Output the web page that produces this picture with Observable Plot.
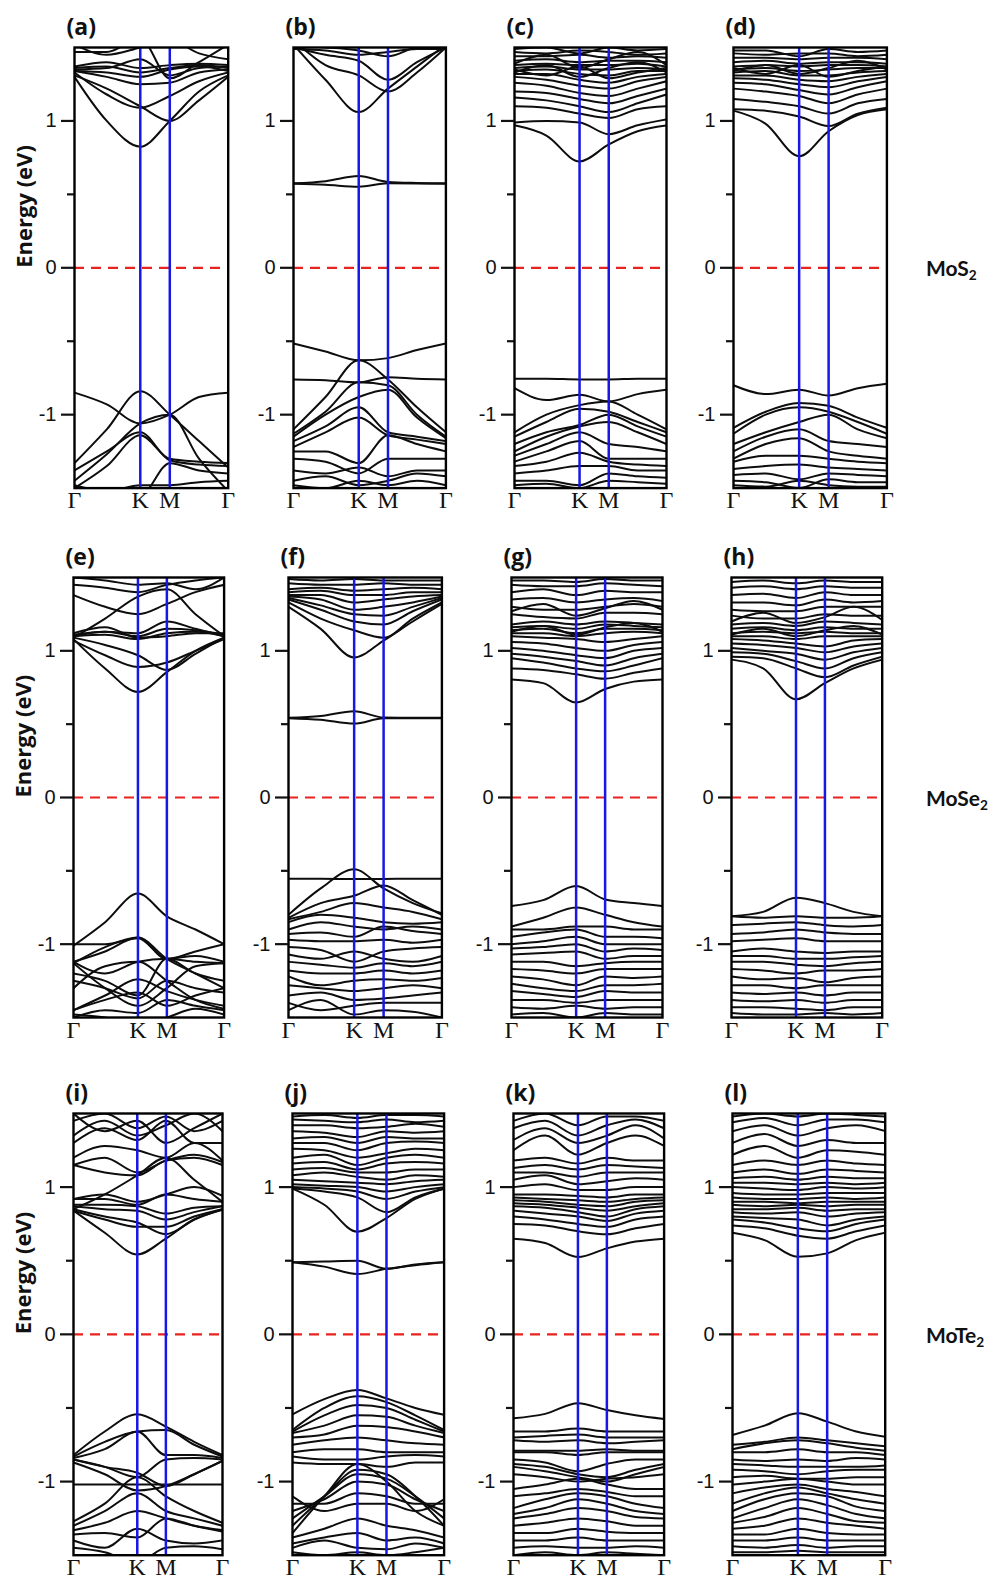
<!DOCTYPE html>
<html><head><meta charset="utf-8">
<script src="https://cdn.jsdelivr.net/npm/d3@7"></script>
<script src="https://cdn.jsdelivr.net/npm/@observablehq/plot@0.6"></script>
<style>
body{margin:0;background:#fff;}
#fig{position:relative;width:989px;height:1583px;overflow:hidden;background:#fff;}
.panel{position:absolute;}
.mat{position:absolute;font-family:Lato,"Open Sans",sans-serif;font-weight:700;font-size:21px;line-height:1;transform:translateY(-50%);white-space:nowrap;color:#111;}
.mat sub{font-size:0.65em;vertical-align:-0.3em;line-height:0;}
</style></head><body><div id="fig"></div><script>
// ---- data ----
const kSamples = [0, 0.21, 0.428, 0.62, 0.81, 1];   // Γ, Γ–K mid, K, M, M–Γ mid, Γ
const kTickPos = [0, 0.428, 0.62, 1];
const kTickText = ["Γ", "K", "M", "Γ"];
const yMajor = [-1, 0, 1];
const yMinor = [-0.5, 0.5];
const fermiLevel = [0];
const panelLabels = ["(a)","(b)","(c)","(d)","(e)","(f)","(g)","(h)","(i)","(j)","(k)","(l)"];
const materials = [["MoS","2"],["MoSe","2"],["MoTe","2"]];
const axisTitle = "Energy (eV)";

const bandsA = [
 [1.30,1.00,0.825,1.00,1.20,1.31],[1.33,1.18,1.09,1.17,1.27,1.33],[1.31,1.22,1.10,1.00,1.14,1.30],
 [1.34,1.30,1.25,1.26,1.33,1.35],[1.36,1.37,1.33,1.36,1.38,1.36],[1.37,1.40,1.36,1.38,1.39,1.38],
 [1.35,1.36,1.42,1.31,1.36,1.37],[1.47,1.47,1.56,1.29,1.40,1.52],[1.52,1.45,1.50,1.55,1.46,1.42],
 [1.34,1.33,1.30,1.35,1.37,1.34],
 [-0.85,-0.93,-1.06,-1.00,-0.88,-0.85],[-1.33,-1.10,-0.84,-1.00,-1.18,-1.36],[-1.38,-1.25,-1.12,-1.31,-1.34,-1.35],
 [-1.45,-1.27,-1.06,-1.00,-1.30,-1.52],[-1.50,-1.35,-1.14,-1.30,-1.32,-1.33],[-1.60,-1.50,-1.55,-1.33,-1.38,-1.40],
 [-1.48,-1.52,-1.48,-1.48,-1.46,-1.45]
];
const bandsB = [
 [1.52,1.28,1.06,1.22,1.37,1.52],[1.55,1.38,1.31,1.20,1.33,1.50],[1.50,1.45,1.41,1.28,1.40,1.50],
 [1.49,1.48,1.45,1.47,1.49,1.49],[1.51,1.50,1.48,1.44,1.50,1.51],
 [0.575,0.59,0.625,0.585,0.578,0.575],[0.572,0.565,0.552,0.575,0.574,0.572],
 [-0.515,-0.57,-0.63,-0.615,-0.56,-0.515],[-0.76,-0.765,-0.78,-0.745,-0.755,-0.76],
 [-1.10,-0.88,-0.63,-0.76,-0.95,-1.12],[-1.13,-0.98,-0.78,-0.80,-1.00,-1.15],[-1.15,-1.00,-0.88,-0.83,-1.02,-1.16],
 [-1.18,-1.08,-0.95,-1.12,-1.15,-1.18],[-1.22,-1.12,-1.02,-1.14,-1.17,-1.20],[-1.25,-1.25,-1.33,-1.14,-1.20,-1.25],
 [-1.30,-1.32,-1.40,-1.30,-1.30,-1.30],[-1.38,-1.40,-1.36,-1.42,-1.38,-1.38],[-1.45,-1.42,-1.48,-1.45,-1.40,-1.42],
 [-1.48,-1.50,-1.45,-1.48,-1.45,-1.48]
];
const bandsC = [
 [0.97,0.90,0.724,0.84,0.93,0.97],[0.99,1.00,0.99,0.91,0.97,1.01],[1.10,1.09,1.05,1.02,1.08,1.10],
 [1.16,1.14,1.10,1.06,1.12,1.18],[1.20,1.19,1.15,1.12,1.17,1.22],[1.26,1.24,1.19,1.17,1.22,1.27],
 [1.30,1.28,1.24,1.22,1.27,1.30],[1.32,1.32,1.28,1.26,1.30,1.32],[1.34,1.35,1.32,1.31,1.34,1.34],
 [1.36,1.37,1.35,1.35,1.36,1.35],[1.38,1.39,1.38,1.38,1.39,1.37],[1.41,1.42,1.40,1.41,1.41,1.40],
 [1.44,1.44,1.45,1.43,1.44,1.43],[1.47,1.46,1.48,1.47,1.45,1.46],[1.49,1.50,1.46,1.50,1.48,1.49],
 [1.33,1.38,1.30,1.36,1.40,1.33],[1.35,1.31,1.37,1.29,1.33,1.36],[1.39,1.45,1.36,1.42,1.47,1.38],
 [-0.755,-0.755,-0.76,-0.76,-0.755,-0.755],[-0.82,-0.90,-0.865,-0.91,-0.86,-0.83],[-1.12,-1.00,-0.935,-0.91,-1.00,-1.10],
 [-1.15,-1.05,-0.96,-0.98,-1.05,-1.12],[-1.20,-1.12,-1.07,-1.00,-1.08,-1.15],[-1.25,-1.15,-1.08,-1.05,-1.12,-1.20],
 [-1.28,-1.20,-1.12,-1.20,-1.22,-1.25],[-1.32,-1.25,-1.18,-1.30,-1.30,-1.30],[-1.35,-1.32,-1.26,-1.32,-1.34,-1.35],
 [-1.40,-1.38,-1.35,-1.35,-1.38,-1.38],[-1.45,-1.45,-1.48,-1.40,-1.42,-1.43],[-1.48,-1.47,-1.50,-1.45,-1.46,-1.47]
];
const bandsD = [
 [1.07,0.98,0.76,0.93,1.04,1.08],[1.08,1.07,1.03,0.965,1.05,1.09],[1.15,1.13,1.10,1.05,1.12,1.15],
 [1.22,1.20,1.17,1.12,1.18,1.22],[1.26,1.25,1.21,1.18,1.23,1.27],[1.29,1.28,1.25,1.23,1.27,1.30],
 [1.31,1.31,1.28,1.27,1.30,1.32],[1.33,1.34,1.31,1.31,1.33,1.34],[1.35,1.36,1.34,1.35,1.36,1.36],
 [1.37,1.38,1.37,1.38,1.38,1.37],[1.40,1.41,1.39,1.40,1.40,1.39],[1.43,1.43,1.42,1.43,1.43,1.42],
 [1.46,1.45,1.46,1.46,1.44,1.45],[1.48,1.48,1.44,1.49,1.47,1.48],
 [1.34,1.38,1.32,1.36,1.41,1.35],[1.36,1.32,1.38,1.30,1.34,1.37],
 [-0.80,-0.86,-0.83,-0.87,-0.82,-0.79],[-1.09,-0.98,-0.92,-0.94,-1.02,-1.09],[-1.13,-1.00,-0.95,-0.98,-1.05,-1.13],
 [-1.20,-1.12,-1.05,-1.00,-1.10,-1.16],[-1.25,-1.15,-1.10,-1.18,-1.20,-1.22],[-1.30,-1.20,-1.16,-1.25,-1.28,-1.30],
 [-1.32,-1.28,-1.28,-1.30,-1.32,-1.33],[-1.37,-1.35,-1.34,-1.36,-1.37,-1.38],[-1.41,-1.40,-1.44,-1.40,-1.41,-1.42],
 [-1.45,-1.46,-1.50,-1.44,-1.46,-1.46],[-1.48,-1.49,-1.45,-1.48,-1.49,-1.49]
];
const bandsE = [
 [1.08,0.88,0.72,0.855,1.00,1.09],[1.07,0.97,0.89,0.92,1.00,1.08],[1.09,1.04,0.97,0.87,0.98,1.09],
 [1.10,1.11,1.08,1.12,1.13,1.10],[1.11,1.13,1.10,1.15,1.14,1.11],[1.12,1.16,1.09,1.10,1.12,1.12],
 [1.10,1.13,1.12,1.20,1.15,1.10],[1.09,1.22,1.37,1.42,1.25,1.10],[1.45,1.43,1.40,1.45,1.48,1.50],
 [1.50,1.48,1.45,1.46,1.42,1.50],[1.38,1.30,1.25,1.32,1.40,1.45],
 [-1.01,-0.85,-0.655,-0.81,-0.90,-1.00],[-1.00,-1.00,-0.96,-1.10,-1.05,-1.00],[-1.12,-1.05,-0.955,-1.10,-1.08,-1.12],
 [-1.12,-1.20,-1.12,-1.10,-1.12,-1.13],[-1.20,-1.25,-1.35,-1.10,-1.20,-1.25],[-1.25,-1.30,-1.37,-1.25,-1.30,-1.33],
 [-1.45,-1.35,-1.24,-1.32,-1.38,-1.42],[-1.50,-1.45,-1.47,-1.38,-1.42,-1.45],[-1.48,-1.50,-1.55,-1.50,-1.44,-1.48],
 [-1.13,-1.02,-0.955,-1.10,-1.20,-1.30],[-1.13,-1.30,-1.42,-1.30,-1.15,-1.13],[-1.30,-1.15,-1.12,-1.25,-1.38,-1.44],
 [-1.45,-1.38,-1.33,-1.42,-1.35,-1.30]
];
const bandsF = [
 [1.30,1.15,0.955,1.07,1.20,1.32],[1.33,1.22,1.14,1.09,1.22,1.33],[1.35,1.28,1.20,1.18,1.27,1.35],
 [1.36,1.31,1.25,1.24,1.30,1.36],[1.37,1.35,1.28,1.30,1.33,1.37],[1.38,1.38,1.33,1.35,1.37,1.38],
 [1.40,1.41,1.38,1.38,1.40,1.40],[1.42,1.43,1.41,1.42,1.43,1.42],[1.46,1.45,1.45,1.46,1.45,1.45],
 [1.49,1.48,1.49,1.48,1.48,1.48],
 [0.543,0.555,0.588,0.545,0.543,0.543],[0.541,0.530,0.504,0.540,0.541,0.541],
 [-0.554,-0.554,-0.556,-0.555,-0.554,-0.554],[-0.80,-0.62,-0.49,-0.62,-0.72,-0.79],[-0.82,-0.72,-0.67,-0.60,-0.70,-0.80],
 [-0.83,-0.78,-0.72,-0.75,-0.78,-0.83],[-0.85,-0.80,-0.82,-0.85,-0.86,-0.85],[-0.90,-0.85,-0.88,-0.90,-0.88,-0.90],
 [-0.93,-0.92,-0.95,-0.88,-0.91,-0.93],[-0.97,-0.98,-0.98,-0.97,-0.99,-0.97],[-1.02,-1.04,-1.12,-1.05,-1.03,-1.02],
 [-1.07,-1.10,-1.05,-1.10,-1.12,-1.08],[-1.12,-1.14,-1.16,-1.13,-1.15,-1.12],[-1.18,-1.20,-1.20,-1.18,-1.20,-1.18],
 [-1.22,-1.28,-1.25,-1.24,-1.25,-1.23],[-1.28,-1.30,-1.32,-1.30,-1.28,-1.30],[-1.35,-1.33,-1.38,-1.37,-1.35,-1.33],
 [-1.40,-1.45,-1.42,-1.40,-1.40,-1.40],[-1.45,-1.38,-1.48,-1.45,-1.46,-1.50]
];
const bandsG = [
 [0.805,0.78,0.647,0.74,0.79,0.805],[0.88,0.87,0.84,0.81,0.85,0.88],[0.95,0.92,0.88,0.86,0.90,0.95],
 [0.98,0.96,0.93,0.90,0.95,0.98],[1.02,1.00,0.97,0.95,1.00,1.02],[1.06,1.05,1.02,1.00,1.04,1.06],
 [1.10,1.09,1.08,1.06,1.08,1.10],[1.12,1.12,1.10,1.12,1.13,1.12],[1.14,1.15,1.12,1.15,1.15,1.14],
 [1.16,1.17,1.15,1.18,1.17,1.16],[1.18,1.20,1.18,1.20,1.19,1.18],[1.25,1.23,1.22,1.26,1.26,1.25],
 [1.30,1.28,1.28,1.30,1.32,1.30],[1.35,1.36,1.33,1.35,1.36,1.34],[1.40,1.42,1.38,1.41,1.40,1.40],
 [1.45,1.44,1.44,1.46,1.45,1.44],[1.48,1.48,1.47,1.49,1.48,1.48],
 [1.13,1.17,1.11,1.16,1.19,1.13],[1.27,1.32,1.24,1.29,1.34,1.28],
 [-0.74,-0.70,-0.604,-0.695,-0.72,-0.74],[-0.88,-0.82,-0.75,-0.80,-0.85,-0.88],[-0.90,-0.90,-0.88,-0.88,-0.90,-0.90],
 [-0.95,-0.92,-0.90,-0.95,-0.95,-0.96],[-1.00,-0.98,-0.95,-1.00,-1.00,-1.00],[-1.03,-1.02,-1.00,-1.05,-1.03,-1.04],
 [-1.07,-1.06,-1.05,-1.10,-1.08,-1.08],[-1.12,-1.12,-1.15,-1.13,-1.12,-1.12],[-1.17,-1.18,-1.20,-1.17,-1.17,-1.17],
 [-1.22,-1.24,-1.28,-1.22,-1.23,-1.22],[-1.27,-1.30,-1.32,-1.28,-1.28,-1.27],[-1.32,-1.34,-1.36,-1.32,-1.33,-1.33],
 [-1.38,-1.38,-1.40,-1.38,-1.38,-1.38],[-1.43,-1.44,-1.42,-1.44,-1.43,-1.43],[-1.48,-1.47,-1.50,-1.47,-1.48,-1.48]
];
const bandsH = [
 [0.94,0.88,0.67,0.78,0.88,0.94],[0.96,0.95,0.88,0.82,0.90,0.96],[0.99,0.98,0.93,0.88,0.95,0.99],
 [1.02,1.00,0.98,0.94,0.99,1.02],[1.05,1.04,1.02,0.99,1.03,1.05],[1.08,1.07,1.05,1.03,1.07,1.08],
 [1.10,1.10,1.08,1.10,1.10,1.10],[1.12,1.13,1.12,1.13,1.12,1.12],[1.15,1.16,1.14,1.16,1.15,1.15],
 [1.18,1.19,1.17,1.20,1.19,1.18],[1.24,1.22,1.22,1.25,1.24,1.24],[1.28,1.27,1.27,1.30,1.30,1.30],
 [1.33,1.33,1.31,1.35,1.33,1.34],[1.38,1.39,1.36,1.40,1.38,1.38],[1.43,1.44,1.42,1.44,1.43,1.43],
 [1.47,1.48,1.46,1.48,1.47,1.47],[1.11,1.15,1.10,1.14,1.17,1.11],[1.20,1.26,1.19,1.23,1.30,1.21],
 [-0.81,-0.78,-0.683,-0.72,-0.78,-0.81],[-0.81,-0.82,-0.81,-0.82,-0.82,-0.81],[-0.87,-0.86,-0.85,-0.87,-0.88,-0.87],
 [-0.93,-0.92,-0.90,-0.92,-0.93,-0.93],[-0.98,-0.97,-0.96,-0.98,-0.98,-0.98],[-1.05,-1.03,-1.05,-1.06,-1.05,-1.05],
 [-1.08,-1.08,-1.10,-1.10,-1.09,-1.08],[-1.12,-1.12,-1.14,-1.15,-1.13,-1.12],[-1.17,-1.18,-1.20,-1.18,-1.18,-1.17],
 [-1.22,-1.24,-1.23,-1.26,-1.23,-1.22],[-1.28,-1.28,-1.30,-1.28,-1.28,-1.28],[-1.33,-1.34,-1.33,-1.35,-1.33,-1.33],
 [-1.38,-1.39,-1.38,-1.40,-1.38,-1.38],[-1.43,-1.43,-1.44,-1.45,-1.43,-1.43],[-1.47,-1.48,-1.48,-1.47,-1.48,-1.47]
];
const bandsI = [
 [0.84,0.69,0.543,0.65,0.78,0.845],[0.84,0.78,0.73,0.73,0.80,0.85],[0.85,0.80,0.76,0.68,0.78,0.85],
 [0.87,0.85,0.84,0.78,0.83,0.87],[0.88,0.88,0.87,0.82,0.86,0.87],[0.92,0.92,0.88,0.95,0.92,0.90],
 [0.92,0.95,0.90,0.95,1.00,0.94],[0.85,0.95,1.08,1.20,1.05,0.90],[1.15,1.10,1.08,1.18,1.20,1.15],
 [1.15,1.20,1.10,1.18,1.22,1.17],[1.20,1.28,1.25,1.20,1.30,1.18],[1.50,1.38,1.45,1.30,1.40,1.50],
 [1.35,1.45,1.35,1.42,1.50,1.38],[1.45,1.50,1.40,1.48,1.38,1.45],[1.30,1.40,1.32,1.45,1.30,1.30],
 [-0.82,-0.66,-0.543,-0.627,-0.73,-0.82],[-0.83,-0.73,-0.66,-0.65,-0.75,-0.83],[-0.84,-0.78,-0.66,-0.82,-0.82,-0.84],
 [-0.85,-0.90,-0.97,-0.85,-0.84,-0.85],[-0.85,-0.90,-0.94,-1.03,-0.95,-0.86],[-0.87,-0.95,-1.06,-1.03,-0.95,-0.86],
 [-1.02,-1.02,-1.02,-1.02,-1.02,-1.02],[-1.27,-1.15,-0.97,-1.10,-1.20,-1.28],[-1.30,-1.20,-1.08,-1.20,-1.25,-1.30],
 [-1.33,-1.28,-1.20,-1.25,-1.30,-1.33],[-1.36,-1.35,-1.38,-1.25,-1.30,-1.34],[-1.40,-1.45,-1.32,-1.40,-1.42,-1.40],
 [-1.45,-1.48,-1.55,-1.45,-1.44,-1.46]
];
const bandsJ = [
 [0.99,0.88,0.697,0.79,0.92,0.99],[0.99,0.97,0.93,0.83,0.93,0.99],[1.00,0.99,0.97,0.92,0.97,1.00],
 [1.02,1.01,1.00,0.97,1.00,1.02],[1.05,1.04,1.03,1.02,1.04,1.05],[1.08,1.10,1.07,1.05,1.08,1.07],
 [1.12,1.13,1.10,1.10,1.12,1.12],[1.16,1.17,1.12,1.16,1.17,1.16],[1.20,1.22,1.15,1.20,1.22,1.20],
 [1.26,1.25,1.20,1.23,1.26,1.25],[1.30,1.30,1.25,1.30,1.31,1.30],[1.33,1.34,1.30,1.34,1.33,1.33],
 [1.38,1.37,1.34,1.38,1.37,1.38],[1.42,1.42,1.40,1.41,1.43,1.41],[1.46,1.45,1.44,1.46,1.44,1.45],
 [1.48,1.49,1.47,1.49,1.49,1.48],
 [0.49,0.495,0.50,0.445,0.475,0.49],[0.49,0.46,0.41,0.445,0.47,0.49],
 [-0.543,-0.44,-0.378,-0.435,-0.50,-0.547],[-0.65,-0.50,-0.42,-0.46,-0.55,-0.65],[-0.66,-0.55,-0.48,-0.50,-0.58,-0.66],
 [-0.67,-0.62,-0.55,-0.56,-0.62,-0.67],[-0.70,-0.68,-0.62,-0.63,-0.66,-0.70],[-0.75,-0.72,-0.70,-0.72,-0.74,-0.75],
 [-0.80,-0.78,-0.78,-0.80,-0.80,-0.80],[-0.83,-0.85,-0.85,-0.83,-0.82,-0.83],[-0.87,-0.88,-0.88,-0.90,-0.87,-0.87],
 [-1.35,-1.10,-0.88,-1.00,-1.20,-1.30],[-1.30,-1.10,-0.92,-0.95,-1.10,-1.30],[-1.25,-1.10,-0.95,-0.98,-1.10,-1.25],
 [-1.20,-1.12,-1.00,-1.02,-1.12,-1.20],[-1.15,-1.15,-1.08,-1.10,-1.15,-1.15],[-1.10,-1.20,-1.15,-1.15,-1.20,-1.12],
 [-1.38,-1.32,-1.25,-1.30,-1.33,-1.38],[-1.42,-1.38,-1.35,-1.40,-1.38,-1.42],[-1.45,-1.40,-1.45,-1.46,-1.42,-1.45],
 [-1.48,-1.50,-1.48,-1.50,-1.48,-1.45]
];
const bandsK = [
 [0.65,0.62,0.525,0.584,0.63,0.65],[0.75,0.74,0.70,0.68,0.72,0.75],[0.80,0.78,0.75,0.73,0.78,0.80],
 [0.84,0.82,0.80,0.77,0.82,0.84],[0.87,0.86,0.83,0.80,0.85,0.87],[0.89,0.88,0.86,0.84,0.87,0.89],
 [0.91,0.90,0.88,0.87,0.90,0.91],[0.93,0.92,0.91,0.90,0.92,0.93],[0.95,0.95,0.94,0.93,0.95,0.95],
 [1.00,1.02,0.98,0.98,1.00,1.00],[1.05,1.08,1.02,1.04,1.06,1.05],[1.10,1.10,1.07,1.10,1.10,1.10],
 [1.13,1.15,1.12,1.15,1.14,1.13],[1.18,1.20,1.16,1.20,1.18,1.18],[1.25,1.35,1.22,1.30,1.35,1.28],
 [1.32,1.40,1.30,1.35,1.42,1.33],[1.40,1.45,1.35,1.42,1.46,1.40],[1.45,1.50,1.42,1.48,1.48,1.45],
 [-0.57,-0.54,-0.468,-0.514,-0.55,-0.575],[-0.66,-0.66,-0.64,-0.66,-0.66,-0.66],[-0.70,-0.69,-0.68,-0.70,-0.70,-0.70],
 [-0.72,-0.73,-0.72,-0.74,-0.73,-0.72],[-0.79,-0.79,-0.79,-0.78,-0.79,-0.79],[-0.80,-0.80,-0.82,-0.80,-0.80,-0.80],
 [-0.85,-0.87,-0.93,-0.88,-0.85,-0.85],[-0.88,-0.90,-0.95,-0.97,-0.92,-0.88],[-0.90,-0.93,-0.97,-1.00,-0.95,-0.90],
 [-0.95,-0.97,-1.00,-0.98,-0.97,-0.95],[-1.05,-1.02,-0.98,-1.02,-1.05,-1.05],[-1.10,-1.08,-1.05,-1.07,-1.10,-1.10],
 [-1.18,-1.12,-1.08,-1.10,-1.15,-1.18],[-1.22,-1.18,-1.12,-1.15,-1.20,-1.22],[-1.25,-1.22,-1.18,-1.20,-1.24,-1.25],
 [-1.30,-1.28,-1.25,-1.27,-1.30,-1.30],[-1.35,-1.35,-1.32,-1.34,-1.35,-1.35],[-1.40,-1.40,-1.38,-1.40,-1.40,-1.40],
 [-1.45,-1.44,-1.45,-1.45,-1.44,-1.45],[-1.50,-1.48,-1.50,-1.48,-1.49,-1.50]
];
const bandsL = [
 [0.69,0.64,0.527,0.55,0.64,0.69],[0.74,0.72,0.67,0.65,0.70,0.74],[0.78,0.76,0.72,0.70,0.75,0.78],
 [0.80,0.79,0.78,0.74,0.78,0.80],[0.83,0.82,0.83,0.80,0.82,0.83],[0.85,0.85,0.86,0.84,0.85,0.85],
 [0.88,0.87,0.88,0.87,0.88,0.88],[0.90,0.90,0.89,0.90,0.90,0.90],[0.93,0.92,0.92,0.93,0.92,0.93],
 [0.96,0.95,0.95,0.96,0.96,0.96],[1.00,0.99,0.98,1.00,0.99,1.00],[1.03,1.03,1.02,1.03,1.02,1.03],
 [1.06,1.07,1.05,1.07,1.06,1.06],[1.10,1.12,1.09,1.12,1.11,1.10],[1.15,1.18,1.15,1.18,1.16,1.15],
 [1.22,1.28,1.20,1.25,1.24,1.22],[1.30,1.36,1.28,1.32,1.30,1.30],[1.38,1.42,1.35,1.40,1.42,1.38],
 [1.44,1.47,1.42,1.46,1.46,1.44],[1.48,1.50,1.48,1.50,1.49,1.48],
 [-0.683,-0.62,-0.536,-0.593,-0.66,-0.695],[-0.75,-0.73,-0.70,-0.72,-0.74,-0.76],[-0.78,-0.74,-0.72,-0.74,-0.77,-0.79],
 [-0.80,-0.80,-0.78,-0.80,-0.80,-0.82],[-0.85,-0.86,-0.85,-0.86,-0.84,-0.85],[-0.88,-0.89,-0.90,-0.90,-0.90,-0.89],
 [-0.92,-0.93,-0.95,-0.93,-0.92,-0.92],[-0.97,-0.96,-0.98,-0.98,-0.97,-0.97],[-1.02,-1.00,-0.98,-1.00,-1.02,-1.02],
 [-1.08,-1.04,-1.02,-1.05,-1.07,-1.10],[-1.15,-1.08,-1.04,-1.08,-1.12,-1.15],[-1.20,-1.12,-1.08,-1.10,-1.17,-1.20],
 [-1.25,-1.18,-1.12,-1.16,-1.22,-1.25],[-1.28,-1.24,-1.18,-1.22,-1.27,-1.28],[-1.32,-1.30,-1.25,-1.28,-1.30,-1.32],
 [-1.36,-1.36,-1.32,-1.35,-1.36,-1.36],[-1.40,-1.40,-1.38,-1.40,-1.40,-1.40],[-1.44,-1.45,-1.43,-1.45,-1.44,-1.44],
 [-1.48,-1.48,-1.47,-1.48,-1.48,-1.48]
];
const allBands = [bandsA,bandsB,bandsC,bandsD,bandsE,bandsF,bandsG,bandsH,bandsI,bandsJ,bandsK,bandsL];

// ---- layout (pixels) ----
const frameLeft  = [74, 293.3, 514, 733.3, 72.7, 288.3, 510.7, 731, 72.7, 291.7, 512.7, 732.3];
const frameWidth = [153.7, 152.4, 152, 153.4, 150.6, 153.4, 151, 150.7, 149, 151.6, 150.6, 152.7];
const rowTop = [46.7, 577.3, 1113.3];
const rowHeight = [440.6, 440, 441.7];
const matLeft = 926;
const ML = 72, MT = 42, MR = 6, MB = 38;

const fig = document.getElementById("fig");

allBands.forEach((bands, p) => {
  const row = Math.floor(p / 4), col = p % 4;
  const W = frameWidth[p], H = rowHeight[row];
  const rows = bands.flatMap((b, i) => b.map((e, j) => ({band: i, k: kSamples[j], e})));
  const marks = [
    Plot.line(rows, {x: "k", y: "e", z: "band", curve: "monotone-x", stroke: "#0d0d0d", strokeWidth: 2, clip: true}),
    Plot.ruleY(fermiLevel, {stroke: "#e8221e", strokeWidth: 2.2, strokeDasharray: "10,7"}),
    Plot.ruleX(kTickPos.slice(1, 3), {stroke: "#1717e6", strokeWidth: 2.5}),
    Plot.frame({stroke: "#000", strokeWidth: 2.4}),
    Plot.axisY(yMajor, {anchor: "left", label: null, tickSize: 13, tickPadding: 5, strokeWidth: 2.2,
      tickFormat: d => String(d), fontSize: 20, fontFamily: "Liberation Sans, Arial, sans-serif"}),
    Plot.axisY(yMinor, {anchor: "left", label: null, tickSize: 7, strokeWidth: 2.2, tickFormat: () => ""}),
    Plot.axisX(kTickPos, {anchor: "bottom", label: null, tickSize: 0, tickPadding: 3,
      tickFormat: d => kTickText[kTickPos.indexOf(d)], fontSize: 24,
      fontFamily: "Liberation Serif, Times New Roman, serif"}),
    Plot.text([panelLabels[p]], {frameAnchor: "top-left", text: d => d, dx: -8, dy: -13,
      textAnchor: "start", lineAnchor: "bottom", fontSize: 23, fontWeight: "bold",
      fontFamily: "Open Sans, sans-serif"})
  ];
  if (col === 0) {
    marks.push(Plot.text([axisTitle], {frameAnchor: "left", text: d => d, rotate: -90, dx: -50,
      fontSize: 22, fontWeight: "bold", fontFamily: "Open Sans, sans-serif"}));
  }
  const chart = Plot.plot({
    width: Math.round(ML + W + MR), height: Math.round(MT + H + MB),
    marginLeft: ML, marginRight: Math.round(ML + W + MR) - ML - W, marginTop: MT,
    marginBottom: Math.round(MT + H + MB) - MT - H,
    x: {domain: [0, 1], axis: null},
    y: {domain: [-1.5, 1.5], axis: null, label: null},
    style: {background: "transparent", overflow: "visible", maxWidth: "none", fontFamily: "Liberation Sans, Arial, sans-serif", color: "#111"},
    marks
  });
  const holder = document.createElement("div");
  holder.className = "panel";
  holder.style.left = (frameLeft[p] - ML) + "px";
  holder.style.top = (rowTop[row] - MT) + "px";
  holder.appendChild(chart);
  fig.appendChild(holder);

  if (col === 3) {
    const m = document.createElement("div");
    m.className = "mat";
    m.style.left = matLeft + "px";
    m.style.top = (rowTop[row] + H / 2) + "px";
    m.innerHTML = materials[row][0] + "<sub>" + materials[row][1] + "</sub>";
    fig.appendChild(m);
  }
});
</script></body></html>
